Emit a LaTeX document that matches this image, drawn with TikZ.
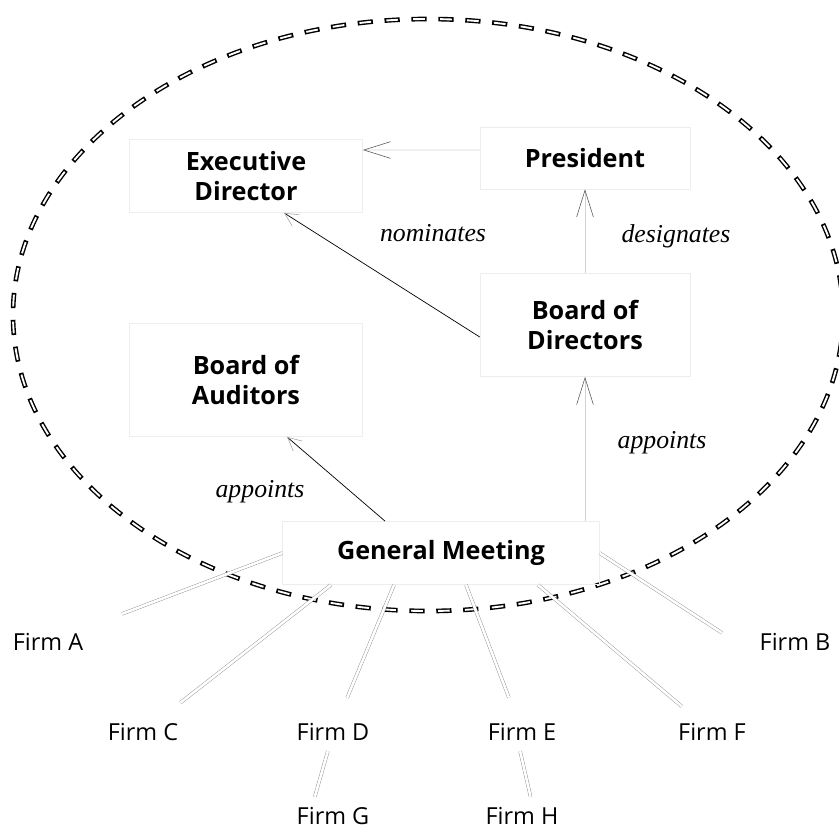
\documentclass[tikz,border=0pt]{standalone}
\usepackage{fontspec}
\setsansfont{Open Sans}
\newfontfamily\verbfont{Liberation Serif}
\usetikzlibrary{arrows.meta}
\usetikzlibrary{positioning}

\tikzset{
    organ/.style={draw=black!7, align=center, minimum width=6.3cm,
        font=\sffamily\bfseries\fontsize{21.5}{25}\selectfont},
    firm/.style={font=\sffamily\fontsize{20}{24}\selectfont},
    verb/.style={font=\verbfont\itshape\fontsize{22}{26}\selectfont},
    ring_outer/.style={line width=4pt, dash pattern=on 13pt off 10pt},
    ring_inner/.style={white, line width=1.6pt, dash pattern=on 10pt off 13pt, dash phase=21.5pt},
    organ_arrow/.style={draw=black!18, line width=0.5pt,
        -{Straight Barb[length=0.8cm, width=0.5cm, color=black!65, line width=0.5pt]}},
    organ_link/.style={draw=black, line width=0.6pt,
        -{Straight Barb[length=0.4cm, width=0.4cm, color=black!35, line width=0.5pt]}},
    holding/.style={draw=black!45, line width=0.35pt, double=white, double distance=2.2pt}
}

\begin{document}
\begin{tikzpicture}[x=0.03cm, y=-0.03cm]
    \useasboundingbox (0,0) rectangle (839,831);

    % dashed ring round the company
    \draw [ring_outer] (428,315) ellipse [x radius=415, y radius=296];
    \draw [ring_inner] (428,315) ellipse [x radius=415, y radius=296];

    \node (executive_director) [organ, minimum width=7cm, minimum height=2.2cm] at (246,176) {Executive\\Director};
    \node (president) [organ, minimum height=1.86cm] at (585,158) {President};
    \node (board_directors) [organ, minimum height=3.1cm] at (585,325) {Board of\\Directors};
    \node (board_auditors) [organ, minimum width=7cm, minimum height=3.4cm] at (246,380) {Board of\\Auditors};
    \node (general_meeting) [organ, minimum width=9.5cm, minimum height=1.9cm] at (441,553) {General Meeting};

    \node (nominates) [verb] at (433,233) {nominates};
    \node (designates) [verb] at (676,236) {designates};
    \node (appoints_directors) [verb] at (662,443) {appoints};
    \node (appoints_auditors) [verb] at (260,492) {appoints};

    \node (firm_a) [firm] at (48,642) {Firm A};
    \node (firm_b) [firm] at (795,642) {Firm B};
    \node (firm_c) [firm] at (143,732) {Firm C};
    \node (firm_d) [firm] at (333,732) {Firm D};
    \node (firm_e) [firm] at (522,732) {Firm E};
    \node (firm_f) [firm] at (712,732) {Firm F};
    \node (firm_g) [firm, below=1.75cm of firm_d] {Firm G};
    \node (firm_h) [firm, below=1.75cm of firm_e] {Firm H};

    % who appoints whom
    \draw [organ_arrow] (board_directors.north) -- (president.south);
    \draw [organ_arrow] (general_meeting.north -| board_directors.south) -- (board_directors.south);
    \draw [organ_arrow] ([yshift=0.24cm]president.west) -- ([yshift=0.78cm]executive_director.east);
    \draw [organ_link] ([yshift=-0.36cm]board_directors.west) -- ([xshift=1.14cm]executive_director.south);
    \draw [organ_link] ([xshift=-1.68cm]general_meeting.north) -- ([xshift=1.23cm]board_auditors.south);

    % shareholdings
    \draw [holding, shorten <=1.3cm] (firm_a) -- (general_meeting.west);
    \draw [holding, shorten <=1.2cm] (firm_b.south west) -- (general_meeting.east);
    \draw [holding, shorten <=0.8cm] (firm_c) -- ([xshift=-3.3cm]general_meeting.south);
    \draw [holding, shorten <=0.7cm] (firm_d) -- ([xshift=-1.41cm]general_meeting.south);
    \draw [holding, shorten <=0.7cm] (firm_e) -- ([xshift=0.75cm]general_meeting.south);
    \draw [holding, shorten <=0.6cm] (firm_f) -- ([xshift=2.91cm]general_meeting.south);
    \draw [holding, shorten <=0.2cm, shorten >=0.2cm] ([xshift=-0.6cm]firm_g.north) -- ([xshift=-0.1cm]firm_d.south);
    \draw [holding, shorten <=0.2cm, shorten >=0.2cm] ([xshift=0.3cm]firm_h.north) -- ([xshift=-0.1cm]firm_e.south);
\end{tikzpicture}
\end{document}
